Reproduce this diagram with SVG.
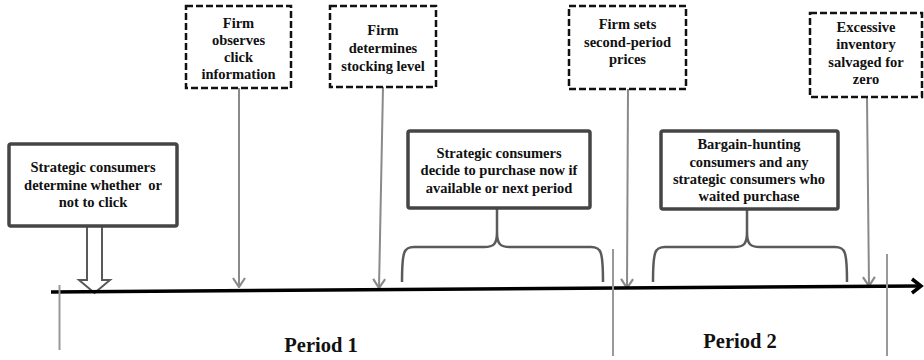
<svg xmlns="http://www.w3.org/2000/svg" width="924" height="360" viewBox="0 0 924 360">
<defs>
<style>
.t{font-family:"Liberation Serif","Times New Roman",serif;font-weight:bold;font-size:14.5px;fill:#111;text-anchor:middle}
.p{font-family:"Liberation Serif","Times New Roman",serif;font-weight:bold;font-size:20.5px;fill:#111;text-anchor:middle}
.solid{fill:#fff;stroke:#454545;stroke-width:3.5}
.dash{fill:#fff;stroke:#111;stroke-width:2.5;stroke-dasharray:7 3}
.ga{stroke:#8a8a8a;stroke-width:2;fill:none}
.div{stroke:#999;stroke-width:2;fill:none}
.brace{stroke:#5a5a5a;stroke-width:2.5;fill:none}
</style>
<marker id="ah" viewBox="0 0 12 14" refX="11" refY="7" markerWidth="12" markerHeight="14" markerUnits="userSpaceOnUse" orient="auto">
<polyline points="2,1 11,7 2,13" fill="none" stroke="#8a8a8a" stroke-width="2.2"/>
</marker>
</defs>
<rect width="924" height="360" fill="#fff"/>

<g id="connectors">
<line class="ga" x1="239" y1="88" x2="239" y2="287" marker-end="url(#ah)"/>
<line class="ga" x1="383" y1="87" x2="379" y2="288" marker-end="url(#ah)"/>
<line class="ga" x1="628" y1="89" x2="627" y2="288" marker-end="url(#ah)"/>
<line class="ga" x1="867" y1="97" x2="869" y2="286" marker-end="url(#ah)"/>
<path class="brace" d="M402,282 C402,251 404,247 414,247 L484,247 C494,247 497,244 497,232 L497,209 M497,232 C497,244 500,247 510,247 L591,247 C601,247 603,251 603,282"/>
<path class="brace" d="M653,282 C653,251 655,247 665,247 L734,247 C744,247 747,244 747,232 L747,209 M747,232 C747,244 750,247 760,247 L835,247 C845,247 847,251 847,282"/>
<path d="M87,226 L87,280 L79,280 L94.5,293 L110,280 L102,280 L102,226 Z" fill="#fff" stroke="#595959" stroke-width="2"/>
</g>

<g id="timeline">
<line x1="51" y1="292" x2="920" y2="286" stroke="#000" stroke-width="3.5"/>
<polyline points="912,279 921,286 912,293" fill="none" stroke="#000" stroke-width="3.5"/>
<line class="div" x1="59.5" y1="285" x2="59.5" y2="350"/>
<line class="div" x1="613" y1="249" x2="613" y2="356"/>
<line class="div" x1="887" y1="254" x2="887" y2="356"/>
</g>

<g id="n-click">
<rect class="solid" x="9" y="144" width="168" height="82" rx="2"/>
<text class="t" x="93" y="172">Strategic consumers</text>
<text class="t" x="93" y="189.5" xml:space="preserve">determine whether  or</text>
<text class="t" x="93" y="207">not to click</text>
</g>

<g id="n-observe">
<rect class="dash" x="186" y="6" width="105" height="82"/>
<text class="t" x="238.5" y="27.5">Firm</text>
<text class="t" x="238.5" y="44.5">observes</text>
<text class="t" x="238.5" y="61.5">click</text>
<text class="t" x="238.5" y="78.5">information</text>
</g>

<g id="n-stock">
<rect class="dash" x="330" y="6" width="106" height="81"/>
<text class="t" x="383" y="35">Firm</text>
<text class="t" x="383" y="53">determines</text>
<text class="t" x="383" y="71">stocking level</text>
</g>

<g id="n-decide">
<rect class="solid" x="408" y="131" width="182" height="77" rx="2"/>
<text class="t" x="499" y="157.5">Strategic consumers</text>
<text class="t" x="499" y="175">decide to purchase now if</text>
<text class="t" x="499" y="192.5">available or next period</text>
</g>

<g id="n-prices">
<rect class="dash" x="569" y="6" width="117" height="83"/>
<text class="t" x="627.5" y="29">Firm sets</text>
<text class="t" x="627.5" y="46.5">second-period</text>
<text class="t" x="627.5" y="64">prices</text>
</g>

<g id="n-bargain">
<rect class="solid" x="661" y="131" width="177" height="78" rx="2"/>
<text class="t" x="749" y="149">Bargain-hunting</text>
<text class="t" x="749" y="166.5">consumers and any</text>
<text class="t" x="749" y="184">strategic consumers who</text>
<text class="t" x="749" y="201">waited purchase</text>
</g>

<g id="n-salvage">
<rect class="dash" x="810" y="13" width="112" height="84"/>
<text class="t" x="866" y="32">Excessive</text>
<text class="t" x="866" y="49">inventory</text>
<text class="t" x="866" y="66.5">salvaged for</text>
<text class="t" x="866" y="84">zero</text>
</g>

<g id="labels">
<text class="p" x="321" y="352">Period 1</text>
<text class="p" x="740" y="348">Period 2</text>
</g>
</svg>
